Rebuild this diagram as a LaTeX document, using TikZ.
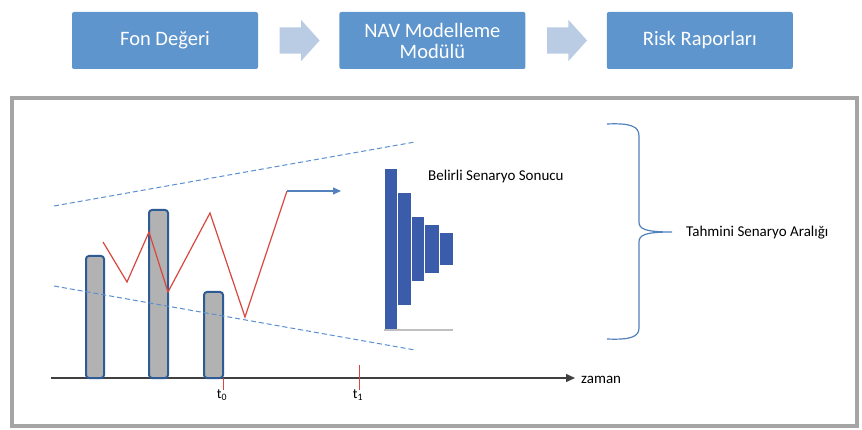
\documentclass[tikz,border=0pt]{standalone}
\usepackage{fontspec}
\setmainfont{Carlito}
\usepackage{tikz}
\usetikzlibrary{positioning,arrows.meta,calc,shapes.arrows}
\definecolor{boxblue}{HTML}{5E95CD}
\definecolor{chevron}{HTML}{BACCE4}
\definecolor{histblue}{HTML}{3A5CAB}
\definecolor{barline}{HTML}{2F5B95}
\definecolor{zigred}{HTML}{D9463E}
\definecolor{bandblue}{HTML}{5B8FD0}
\definecolor{framegray}{HTML}{A5A5A5}

\begin{document}
\begin{tikzpicture}[
    x=1pt, y=-1pt,
    node distance=81pt,
    box/.style={fill=boxblue, rounded corners=2pt, minimum width=186pt, minimum height=57pt, inner sep=0pt, align=center, text=white, font=\fontsize{20.5}{21}\selectfont},
    chev/.style={single arrow, fill=chevron, inner xsep=0pt, inner ysep=13pt, minimum height=40pt, single arrow head extend=7.5pt, single arrow tip angle=96},
    fund/.style={draw=barline, line width=2pt, fill=black!30, rounded corners=3pt},
    hist/.style={fill=histblue, draw=white, line width=0.6pt},
    band/.style={draw=bandblue, line width=1pt, dash pattern=on 5pt off 3pt},
    lbl/.style={font=\fontsize{15}{18}\selectfont, inner sep=0pt},
  ]
  \useasboundingbox (0,0) rectangle (862,430);

  % process chain
  \node[box] (fon) at (165,40.5) {Fon Değeri};
  \node[box, right=of fon] (nav) {NAV Modelleme\\Modülü};
  \node[box, right=of nav] (risk) {Risk Raporları};
  \node[chev] (c1) at ($(fon.east)!0.5!(nav.west)+(-5,0)$) {};
  \node[chev] (c2) at ($(nav.east)!0.5!(risk.west)+(-5,0)$) {};

  \draw[framegray, line width=4pt] (12,98) rectangle (857,426);

  % time axis
  \draw[black!75, line width=1.5pt, -{Triangle[length=9pt,width=8pt]}] (51,378) -- (575,378) coordinate (axisend);
  \node[lbl, anchor=west] (zaman) at ($(axisend)+(6,2)$) {zaman};

  \foreach \xa/\xb/\ya in {86/104/256, 149/168/210, 204/223/292}
    \draw[fund] (\xa,\ya) rectangle (\xb,378);

  \draw[band] (54,206) -- (415,142);
  \draw[band] (54,286) -- (415,350);

  \draw[zigred, line width=1.2pt] (103,242) -- (127,282) -- (149,232) -- (168,292)
    -- (210,213) -- (245,317) -- (287,191) coordinate (peak);
  \draw[bandblue!90!black, line width=1.2pt, -{Triangle[length=8pt,width=7pt]}] (peak) -- (341,191);

  % ticks
  \draw[zigred, line width=1pt] (223,378) -- (223,390) coordinate (tick0);
  \draw[zigred, line width=1pt] (359,365) -- (359,390) coordinate (tick1);
  \node[font=\fontsize{14}{16}\selectfont, inner sep=0pt] (t0) at (222,395) {t\textsubscript{0}};
  \node[font=\fontsize{14}{16}\selectfont, inner sep=0pt] (t1) at (358,395) {t\textsubscript{1}};

  % scenario distribution
  \foreach \xa/\xb/\ya/\yb in {384/397/168/330, 397/411/192/305, 411/424/216/281, 424/439/224/273, 439/453/232/265}
    \draw[hist] (\xa,\ya) rectangle (\xb,\yb);
  \draw[black!25, line width=1.2pt] (384,330) -- (453,330);
  \node[lbl, anchor=west] (sonuc) at (428,177) {Belirli Senaryo Sonucu};

  % brace
  \draw[bandblue!90!black, line width=1.2pt] (607,124) .. controls (630,123) and (639,126) .. (639,136)
    -- (639,222) .. controls (639,229) and (645,232) .. (672,232) coordinate (tip)
    .. controls (645,232) and (639,235) .. (639,242) -- (639,328)
    .. controls (639,337) and (630,340) .. (607,339);
  \node[lbl, anchor=west] (aralik) at ($(tip)+(14,1)$) {Tahmini Senaryo Aralığı};
\end{tikzpicture}
\end{document}
